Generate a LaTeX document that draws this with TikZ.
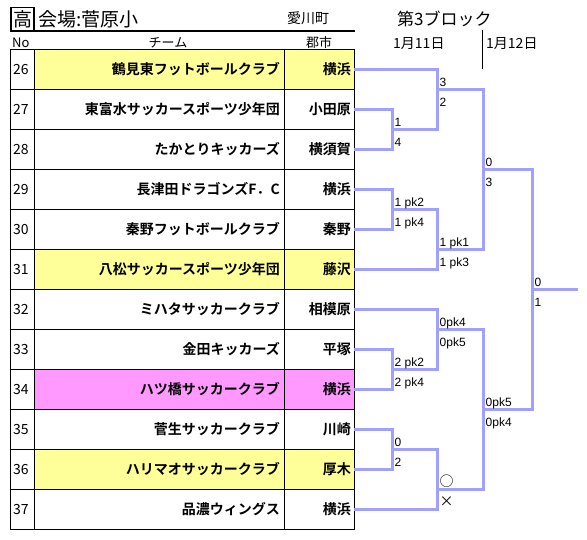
\documentclass[tikz,border=0pt]{standalone}
\usepackage{fontspec}
\setmainfont{Noto Sans CJK JP}[BoldFont={Noto Sans CJK JP Bold}]
\newfontfamily\lblfont{Liberation Sans}
\definecolor{bkline}{RGB}{160,160,255}
\definecolor{hlyel}{RGB}{255,255,153}
\definecolor{hlpink}{RGB}{255,153,255}

\begin{document}
\begin{tikzpicture}[x=1pt, y=-1pt, line join=miter,
	bk/.style={draw=bkline, line width=3pt},
	grd/.style={line width=0.8pt},
	sc/.style={anchor=base west, inner sep=0pt, xshift=2.5pt, font=\lblfont\fontsize{12}{14}\selectfont},
	sctop/.style={sc, yshift=3pt},
	scbot/.style={sc, yshift=-17pt},
	notxt/.style={anchor=base west, inner sep=0pt, font=\fontsize{13}{15}\selectfont},
	teamtxt/.style={anchor=base east, inner sep=0pt, font=\fontsize{14}{16}\selectfont\bfseries},
	hdtxt/.style={anchor=base, inner sep=0pt, font=\fontsize{13}{15}\selectfont}]
	\useasboundingbox (0,0) rectangle (587,539);

	% 見出し
	\node[draw, line width=1.5pt, minimum width=23pt, minimum height=24pt, inner sep=0pt,
		font=\fontsize{19}{21}\selectfont] (kou) at (22.5,19.5) {高};
	\node[anchor=base west, inner sep=0pt, font=\fontsize{19}{21}\selectfont] (kaijo) at (38,26) {会場:菅原小};
	\node[anchor=base west, inner sep=0pt, font=\fontsize{14}{16}\selectfont] (machi) at (287,23) {愛川町};
	\node[anchor=base west, inner sep=0pt, font=\fontsize{17}{19}\selectfont] (block) at (397,25) {第3ブロック};
	\draw[line width=1.2pt] (10,31) -- (355,31);

	\node[notxt] (hno) at (12,47) {No};
	\node[hdtxt] (hteam) at (168,47) {チーム};
	\node[hdtxt] (hcity) at (319,47) {郡市};
	\node[notxt, font=\fontsize{14}{16}\selectfont] (day1) at (393,48) {1月11日};
	\node[notxt, font=\fontsize{14}{16}\selectfont] (day2) at (486,48) {1月12日};
	\draw[line width=0.8pt] (482,30) -- (482,69);

	% 色付きの行
	\foreach \r/\c in {0/hlyel, 5/hlyel, 8/hlpink, 10/hlyel}
		\fill[\c] (34,{49+40*\r}) rectangle (354,{89+40*\r});

	% 表の枠
	\draw[grd] (10,49) rectangle (354,529);
	\draw[grd] (34,49) -- (34,529);
	\draw[grd] (284,49) -- (284,529);
	\foreach \r in {1,...,11}
		\draw[grd] (10,{49+40*\r}) -- (354,{49+40*\r});

	% チーム
	\foreach \n/\team/\city [count=\k from 0] in {
		26/鶴見東フットボールクラブ/横浜,
		27/東富水サッカースポーツ少年団/小田原,
		28/たかとりキッカーズ/横須賀,
		29/長津田ドラゴンズF．C/横浜,
		30/秦野フットボールクラブ/秦野,
		31/八松サッカースポーツ少年団/藤沢,
		32/ミハタサッカークラブ/相模原,
		33/金田キッカーズ/平塚,
		34/ハツ橋サッカークラブ/横浜,
		35/菅生サッカークラブ/川崎,
		36/ハリマオサッカークラブ/厚木,
		37/品濃ウィングス/横浜} {
		\node[notxt, font=\fontsize{14}{16}\selectfont] (no\n) at (13,{74+40*\k}) {\n};
		\node[teamtxt] (tm\n) at (280,{74+40*\k}) {\team};
		\node[teamtxt] (ct\n) at (351,{74+40*\k}) {\city};
		\coordinate (e\n) at (354,{69+40*\k});
	}

	% 組み合わせの点
	\coordinate (mA) at (392,129);
	\coordinate (mB) at (392,209);
	\coordinate (mC) at (392,369);
	\coordinate (mD) at (392,449);
	\coordinate (mE) at (437,89);
	\coordinate (mF) at (437,249);
	\coordinate (mG) at (437,329);
	\coordinate (mH) at (437,489);
	\coordinate (mI) at (483,169);
	\coordinate (mJ) at (483,409);
	\coordinate (mK) at (532,289);
	\coordinate (champ) at (578,289);

	% トーナメント線
	\draw[bk] (e27) -| (mA) |- (e28);
	\draw[bk] (e29) -| (mB) |- (e30);
	\draw[bk] (e33) -| (mC) |- (e34);
	\draw[bk] (e35) -| (mD) |- (e36);
	\draw[bk] (e26) -| (mE) |- (mA);
	\draw[bk] (mB) -| (mF) |- (e31);
	\draw[bk] (e32) -| (mG) |- (mC);
	\draw[bk] (mD) -| (mH) |- (e37);
	\draw[bk] (mE) -| (mI) |- (mF);
	\draw[bk] (mG) -| (mJ) |- (mH);
	\draw[bk] (mI) -| (mK) |- (mJ);
	\draw[bk] (mK) -- (champ);

	% スコア
	\node[sctop] (sA1) at (mA) {1};
	\node[scbot] (sA2) at (mA) {4};
	\node[sctop] (sB1) at (mB) {1 pk2};
	\node[scbot] (sB2) at (mB) {1 pk4};
	\node[sctop] (sC1) at (mC) {2 pk2};
	\node[scbot] (sC2) at (mC) {2 pk4};
	\node[sctop] (sD1) at (mD) {0};
	\node[scbot] (sD2) at (mD) {2};
	\node[sctop] (sE1) at (mE) {3};
	\node[scbot] (sE2) at (mE) {2};
	\node[sctop] (sF1) at (mF) {1 pk1};
	\node[scbot] (sF2) at (mF) {1 pk3};
	\node[sctop] (sG1) at (mG) {0pk4};
	\node[scbot] (sG2) at (mG) {0pk5};
	\node[sctop, font=\fontsize{14}{16}\selectfont] (sH1) at (mH) {○};
	\node[scbot, font=\fontsize{14}{16}\selectfont] (sH2) at (mH) {×};
	\node[sctop] (sI1) at (mI) {0};
	\node[scbot] (sI2) at (mI) {3};
	\node[sctop] (sJ1) at (mJ) {0pk5};
	\node[scbot] (sJ2) at (mJ) {0pk4};
	\node[sctop] (sK1) at (mK) {0};
	\node[scbot] (sK2) at (mK) {1};
\end{tikzpicture}
\end{document}
